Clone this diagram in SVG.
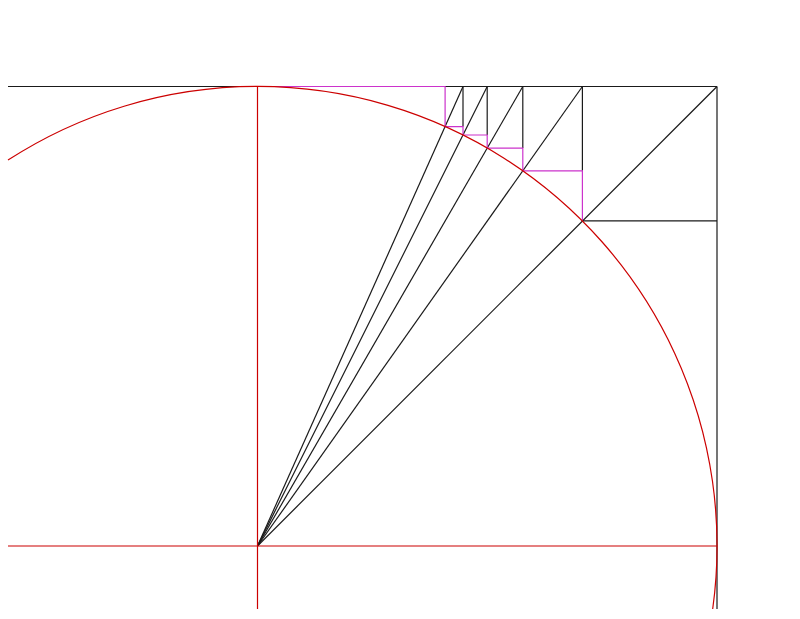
<svg xmlns="http://www.w3.org/2000/svg" width="800" height="619" viewBox="0 0 800 619">
<style>
.k{stroke:#1a1a1a;stroke-width:1.2;fill:none}
.r{stroke:#cc0000;stroke-width:1.2;fill:none}
.m{stroke:#cc33cc;stroke-width:1.2;fill:none}
</style>
<rect width="800" height="619" fill="#ffffff"/>
<g id="frame">
<line class="k" x1="8" y1="86.5" x2="717" y2="86.5"/>
<line class="k" x1="717" y1="86.5" x2="717" y2="609"/>
<line class="k" x1="582.4" y1="220.8" x2="717" y2="220.8"/>
</g>
<g id="rays">
<line class="k" x1="257.5" y1="546" x2="717" y2="86.5"/>
<line class="k" x1="257.5" y1="546" x2="582.4" y2="86.5"/>
<line class="k" x1="257.5" y1="546" x2="522.8" y2="86.5"/>
<line class="k" x1="257.5" y1="546" x2="487.2" y2="86.5"/>
<line class="k" x1="257.5" y1="546" x2="463" y2="86.5"/>
</g>
<g id="verticals">
<line class="k" x1="582.4" y1="86.5" x2="582.4" y2="170.8"/>
<line class="k" x1="522.8" y1="86.5" x2="522.8" y2="148.1"/>
<line class="k" x1="487.2" y1="86.5" x2="487.2" y2="135"/>
<line class="k" x1="463" y1="86.5" x2="463" y2="126.6"/>
</g>
<g id="staircase">
<path class="m" d="M582.4,220.8 V170.8 H522.8 V148.1 H487.2 V135 H463 V126.6 H445.1 V86.5 H257.5"/>
</g>
<g id="circle">
<path class="r" d="M8,160.1 A459.5,459.5 0 0 1 712.7,609"/>
<line class="r" x1="8" y1="546" x2="717" y2="546"/>
<line class="r" x1="257.5" y1="86.5" x2="257.5" y2="609"/>
</g>
</svg>
